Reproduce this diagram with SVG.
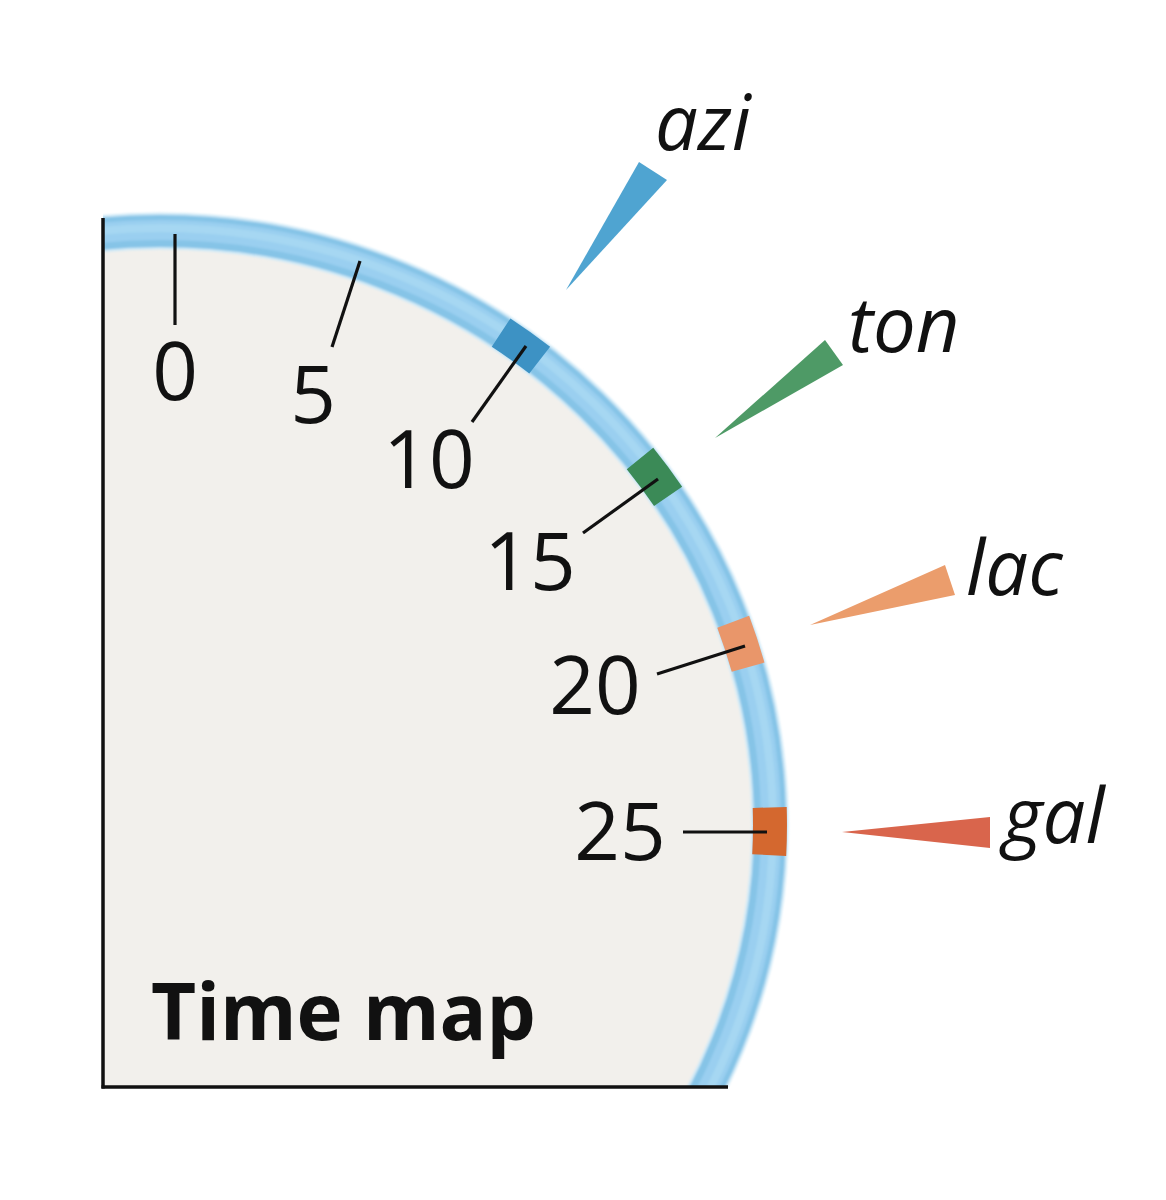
<svg xmlns="http://www.w3.org/2000/svg" width="1166" height="1200" viewBox="0 0 1166 1200">
  <defs>
    <clipPath id="quad">
      <rect x="103" y="0" width="1063" height="1087"/>
    </clipPath>
    <filter id="soft" x="-5%" y="-5%" width="110%" height="110%">
      <feGaussianBlur stdDeviation="1.2"/>
    </filter>
    <style>
      .num { font-family: "Open Sans", "Liberation Sans", sans-serif; font-size: 80px; fill: #111; text-anchor: middle; }
      .gene { font-family: "Open Sans", "Liberation Sans", sans-serif; font-style: italic; font-size: 76px; fill: #111; }
      .title { font-family: "Open Sans", "Liberation Sans", sans-serif; font-weight: bold; font-size: 78px; fill: #111; }
      .tick { stroke: #111; stroke-width: 3.2; fill: none; }
      .mark { fill: none; stroke-width: 34; stroke-linecap: butt; }
    </style>
  </defs>
  <rect width="1166" height="1200" fill="#ffffff"/>

  <g id="map" clip-path="url(#quad)">
    <ellipse cx="160" cy="825" rx="610" ry="594" fill="#f2f0ec"/>
    <g filter="url(#soft)">
      <ellipse cx="160" cy="825" rx="610" ry="594" fill="none" stroke="#cfe9f7" stroke-width="37"/>
      <ellipse cx="160" cy="825" rx="610" ry="594" fill="none" stroke="#86c4e7" stroke-width="32"/>
      <ellipse cx="160" cy="825" rx="611" ry="595" fill="none" stroke="#9acff0" stroke-width="20"/>
      <ellipse cx="160" cy="825" rx="613" ry="597" fill="none" stroke="#a6d7f2" stroke-width="8"/>
    </g>
  </g>

  <g id="markers">
    <path id="m10" class="mark" stroke="#3d92c4" d="M501.1,332.6 A610,594 0 0 1 539.7,360.1"/>
    <path id="m15" class="mark" stroke="#3b8a57" d="M640.0,458.5 A610,594 0 0 1 668.1,496.3"/>
    <path id="m20" class="mark" stroke="#e9966a" d="M733.2,621.8 A610,594 0 0 1 748.1,667.2"/>
    <path id="m25" class="mark" stroke="#d4682f" d="M769.7,807.4 A610,594 0 0 1 769.2,855.1"/>
  </g>

  <g id="axes">
    <line x1="103" y1="218" x2="103" y2="1088.5" stroke="#111" stroke-width="3.5"/>
    <line x1="101.5" y1="1087" x2="728" y2="1087" stroke="#111" stroke-width="3.5"/>
  </g>

  <g id="connectors">
    <line class="tick" x1="175" y1="234" x2="175" y2="325"/>
    <line class="tick" x1="360" y1="261" x2="332" y2="347"/>
    <line class="tick" x1="526" y1="346" x2="472" y2="422"/>
    <line class="tick" x1="658" y1="479" x2="583" y2="533"/>
    <line class="tick" x1="745" y1="646" x2="657" y2="674"/>
    <line class="tick" x1="767" y1="832" x2="683" y2="832"/>
  </g>

  <g id="ticklabels">
    <text class="num" x="175" y="400">0</text>
    <text class="num" x="313" y="423">5</text>
    <text class="num" x="429" y="488">10</text>
    <text class="num" x="530" y="590">15</text>
    <text class="num" x="595" y="714">20</text>
    <text class="num" x="620" y="860">25</text>
  </g>

  <g id="azi">
    <polygon points="566,290 639,162 667,180" fill="#4fa4d1"/>
    <text class="gene" x="655" y="150">azi</text>
  </g>
  <g id="ton">
    <polygon points="715,438 825,340 843,365" fill="#4e9a66"/>
    <text class="gene" x="848" y="352">ton</text>
  </g>
  <g id="lac">
    <polygon points="810,625 945,565 955,595" fill="#eb9d6c"/>
    <text class="gene" x="966" y="595">lac</text>
  </g>
  <g id="gal">
    <polygon points="842,832 990,817 990,848" fill="#d9654c"/>
    <text class="gene" x="1003" y="843">gal</text>
  </g>

  <g id="title">
    <text class="title" x="151" y="1040">Time map</text>
  </g>
</svg>
